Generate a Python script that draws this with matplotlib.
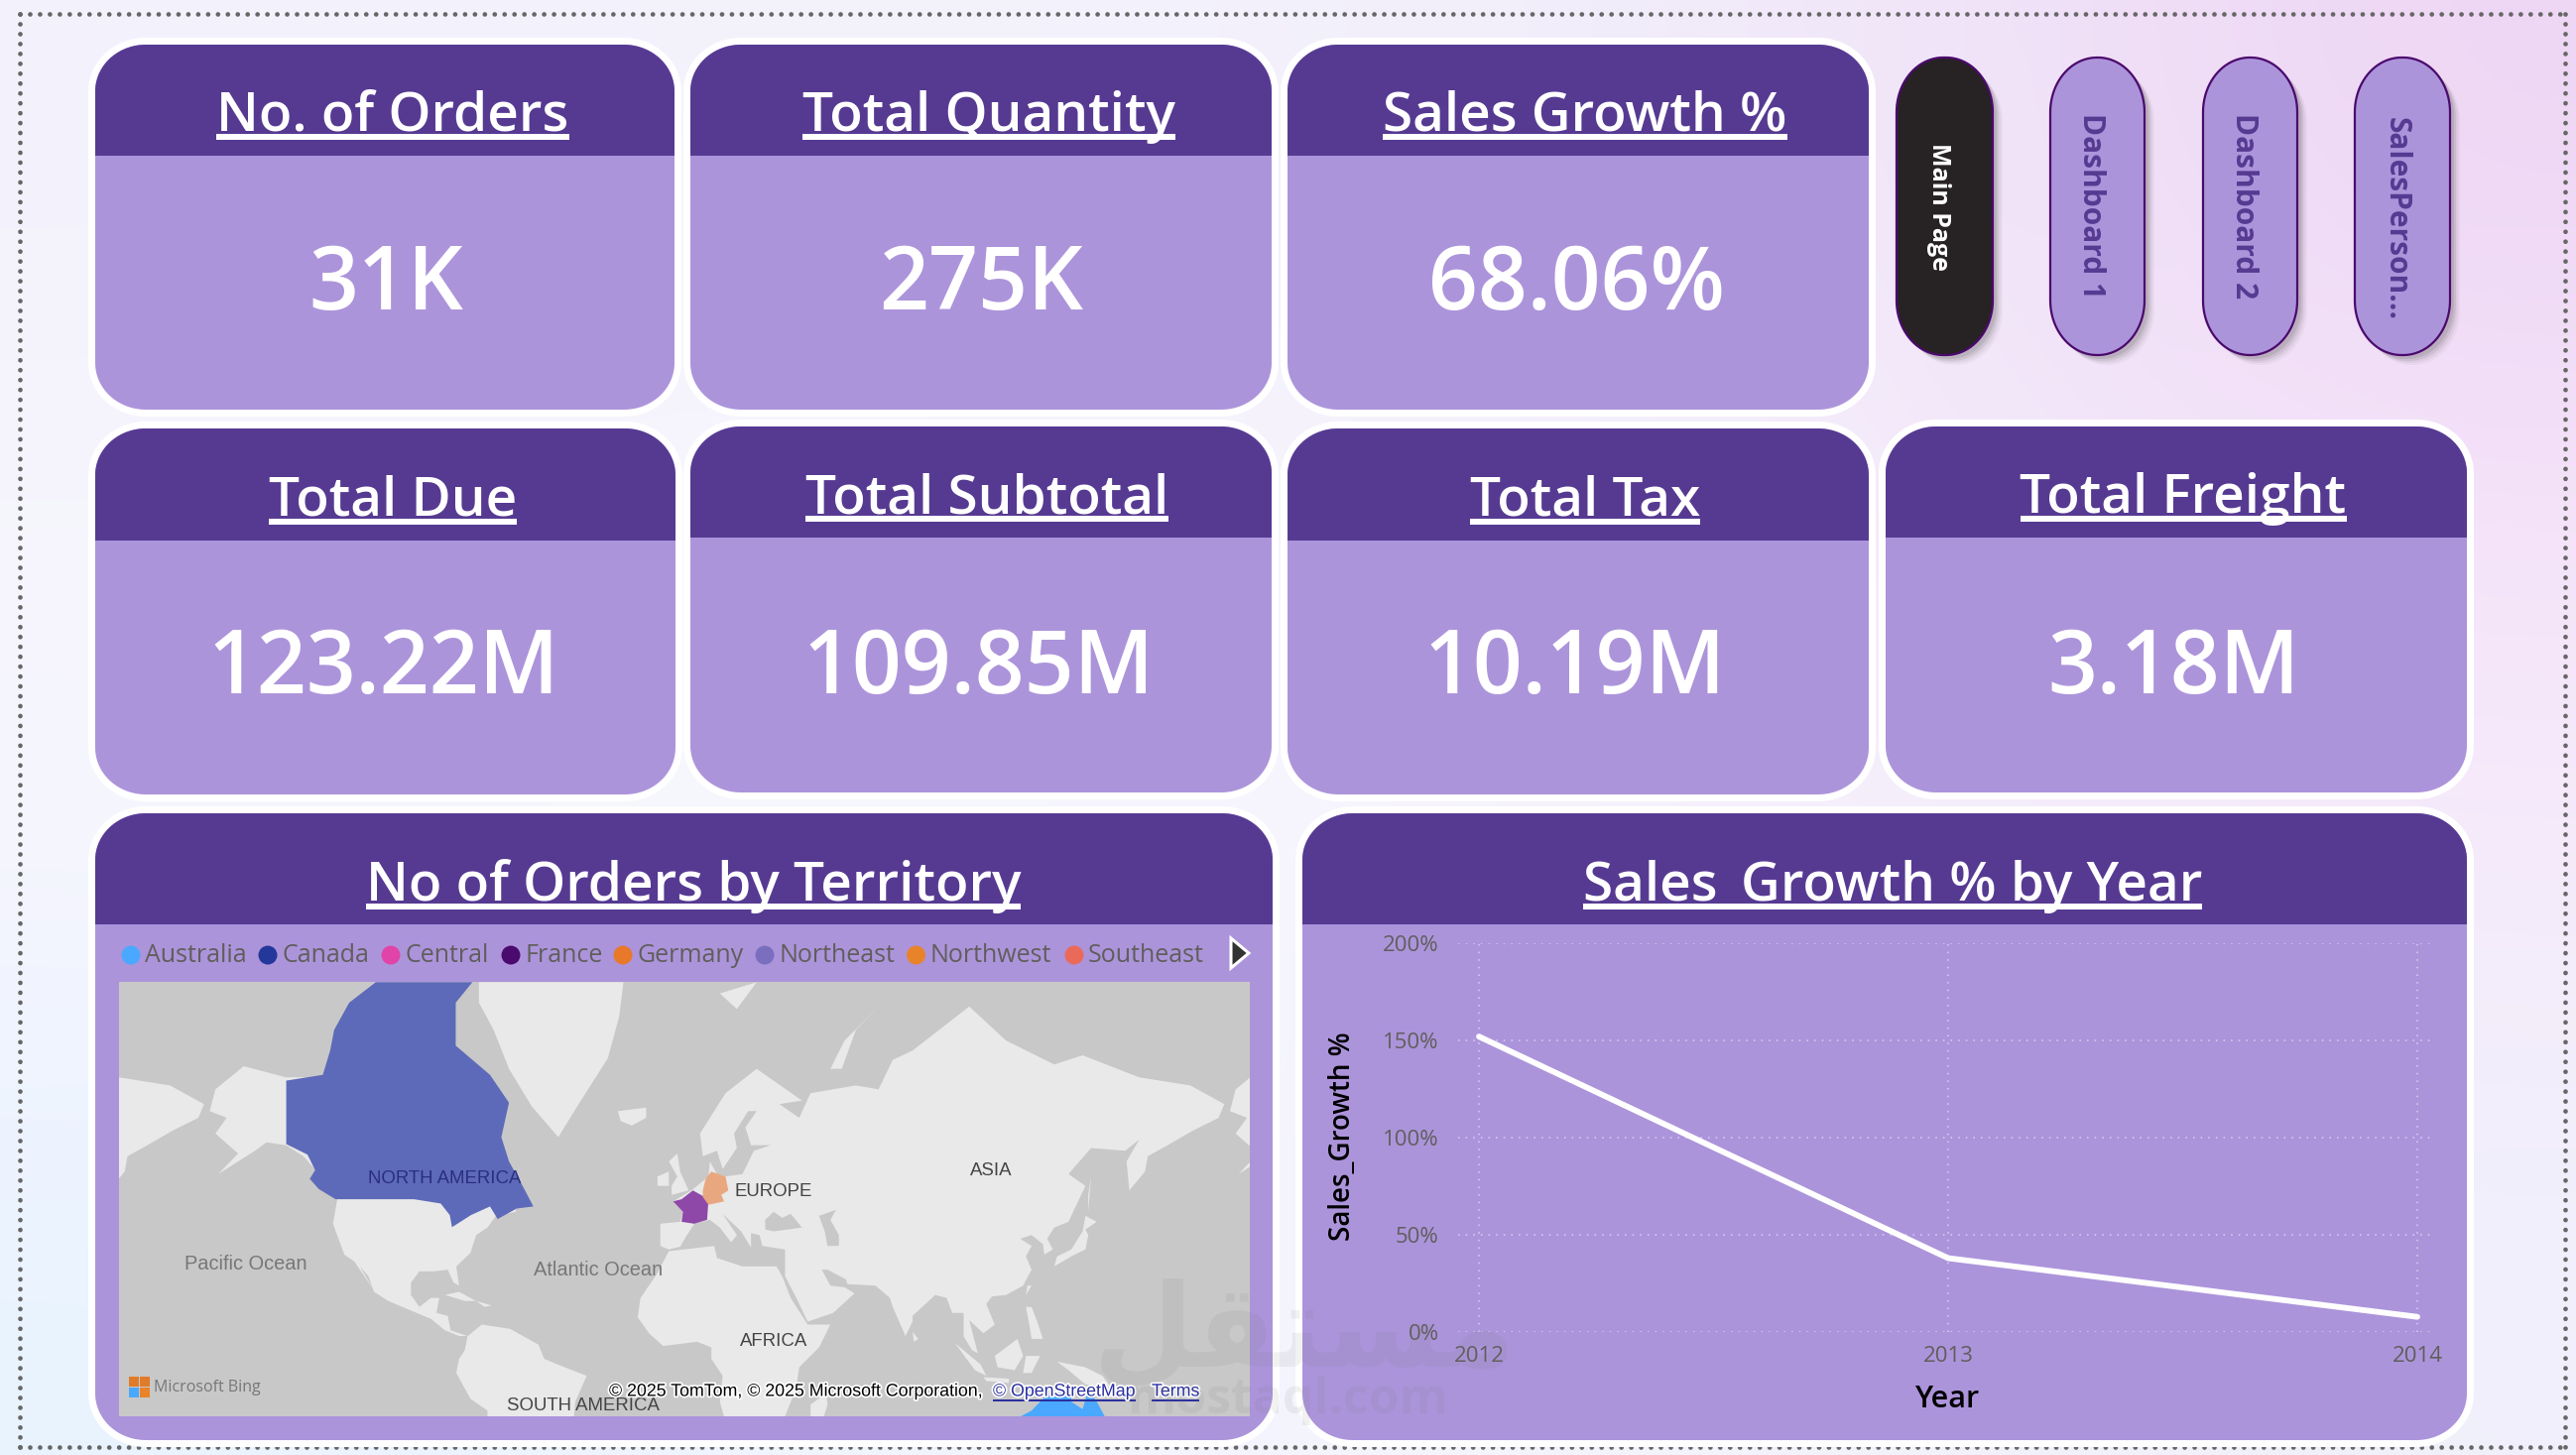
import numpy as np
import matplotlib
matplotlib.use("Agg")
import matplotlib.pyplot as plt
from matplotlib.patches import Rectangle, Polygon, Circle
import matplotlib.patheffects as pe

W, H = 2597, 1467

# ---- data ----
top_titles = ["No. of Orders", "Total Quantity", "Sales Growth %"]
top_values = ["31K", "275K", "68.06%"]
mid_titles = ["Total Due", "Total Subtotal", "Total Tax", "Total Freight"]
mid_values = ["123.22M", "109.85M", "10.19M", "3.18M"]
buttons = ["Main Page", "Dashboard 1", "Dashboard 2", "SalesPerson..."]

territories = ["Australia", "Canada", "Central", "France", "Germany", "Northeast", "Northwest", "Southeast"]
territory_colors = ["#4aa8ff", "#24379a", "#e044a7", "#4b0a6d", "#e8782a", "#7a6fbf", "#e8832a", "#ea6a5a"]

years = [2012, 2013, 2014]
sales_growth = [152, 38, 7.8]
y_ticks = [0, 50, 100, 150, 200]

# rough lon/lat outlines for the base map
north_america = [(-168,65.5),(-166,68.5),(-156,71.3),(-141,70),(-128,70),(-115,68),(-95,68),(-85,69),(-70,60),(-60,52),(-60,46),
                 (-67,45),(-70,42),(-74,40),(-76,35),(-81,31),(-80,25),(-82,26),(-84,30),(-89,29.5),(-94,29.5),(-97,26),(-97,22),
                 (-94,18),(-90,21),(-87,21),(-88,16),(-84,15),(-83,10),(-77,8),(-80,8),(-85,10),(-90,14),(-95,16),(-105,20),
                 (-110,23),(-112,28),(-115,31),(-110,23.5),(-117,32.5),(-120.5,34.5),(-124.5,43),(-123,49),(-130,55),(-135,58),
                 (-141,60),(-148,60.5),(-152,59),(-165,54.5),(-158,58.5),(-166,62),(-162,64.5)]
greenland = [(-73,78.8),(-22,78.8),(-23.5,76.2),(-27.5,72.2),(-38.3,66.2),(-45,61.4),(-54.4,66.2),(-62.4,71),(-67.8,75),(-73,77.3)]
south_america = [(-77,8),(-72,12),(-62,10.5),(-52,5),(-50,0),(-44,-2.5),(-35,-6),(-39,-15),(-40,-25),(-70,-25),(-70,-18),(-76,-14),
                 (-81,-5),(-80,0),(-78,3)]
africa = [(-6,35.5),(10,37),(11,33.5),(20,31),(32,31),(34,28),(37,21),(43,12),(51,12),(47,4),(40,-3),(39,-10),(35,-20),(35,-25),
          (15,-25),(12,-15),(13,-6),(9,0),(9,4),(4,6),(-4,5),(-8,4.5),(-13,9),(-17,14.5),(-16,21),(-10,29)]
eurasia = [(-9,37),(-9,43),(-2,43.5),(-1,46),(-4.5,48.5),(2,51),(8,54),(8.5,57),(11,54.5),(14,54),(20,54.5),(24,59),(30,60),(23,60),
           (21,63),(25,65.5),(22,65.5),(17,62),(18,59.5),(13,55.5),(11,59),(6,58),(5,62),(14,68),(25,71),(41,67),(33,66.5),(40,64.5),
           (44,68),(60,69),(68,68.5),(73,72),(80,73),(100,77),(113,74),(130,71.5),(140,72.5),(160,70),(178,69),(190,66.5),(188,64.5),
           (179,62.5),(170,60),(163,58),(162,55),(156.5,51),(155.5,57),(160,61),(155,59),(143,59.5),(135,54.5),(141,52),(135,43.5),
           (130,42),(127.5,39),(129.5,36),(126.5,34.5),(126,37.5),(122,40),(118,39),(122,37),(120,34),(122,30),(119,25),(113,22),
           (108,21.5),(106,19),(109,12),(105,9),(100,13.5),(103,2),(101,3),(98,8),(98,16),(94,16),(92,21),(88,22),(80,15),(80,13),
           (77.5,8),(73,18),(72,21),(67,25),(57,25.5),(56.5,27),(50,30),(48,30),(51,25),(56,24.5),(59.5,22.5),(52,16),(43,13),(39,21),
           (35,28),(35,36),(27,37),(26,40),(23,40.5),(23,36.5),(19.5,41),(13,45.5),(18,40),(16,38),(12,42),(8.5,44),(3,43),(0,39.5),
           (-2,36.8),(-6,36)]
islands = [
    [(-5,50),(1,51),(-2,55),(-3,58.5),(-6,57),(-3,54),(-5,52)],
    [(-10,52),(-6,52),(-6,55),(-10,54)],
    [(-24,65.5),(-14,66),(-14,64.5),(-19,63.3),(-23,64)],
    [(130,31),(136,34),(141,36),(142,40),(141,41.5),(145,43.5),(141,45),(140,41),(136,36),(131,34)],
    [(142,46),(143,54),(142,50)],
    [(51,71),(56,74),(68,77),(60,75),(55,71)],
    [(12,78),(25,78.8),(18,76.8)],
    [(95,5.5),(104,-2),(106,-6),(102,-4)],
    [(109,1),(117,7),(119,1),(116,-4),(110,-3)],
    [(105,-6.5),(114,-7),(114,-8.5),(106,-7.8)],
    [(120,1),(125,1),(122,-5),(119,-5)],
    [(131,-1),(141,-3),(147,-6),(150,-10),(141,-9),(135,-4)],
    [(120,18),(122,18),(124,13),(126,7),(122,7),(121,13)],
    [(120,22),(122,25),(120.5,25)],
    [(80,9.5),(82,7),(80.5,6)],
    [(44,-16),(49.5,-12),(50,-16),(47,-25),(44,-25)],
    [(-85,22),(-80,23),(-74,20),(-78,20)],
    [(-74,20),(-68.5,18.5),(-71,18)],
]
seas = [
    [(28,41.5),(28,44),(31,46),(34,44.5),(37,45.5),(41,42),(36,41.5),(31,41)],
    [(47,45),(53,46.5),(51,44),(54,40),(54,37),(50,37),(49,41)],
]
canada = [(-109.4,78.8),(-118.8,77.3),(-124.1,75),(-125.5,73),(-128.1,70.3),(-141,69.6),(-141,60.2),(-133.5,58.3),(-130.8,55.3),
          (-132.7,53.5),(-129.5,51.3),(-123.6,49),(-95.9,49),(-86.5,48),(-83.3,45.2),(-82.5,42.1),(-75.8,45.2),(-69.1,47.3),(-66.4,44.2),
          (-59.7,46.8),(-53.8,47.3),(-57,51.3),(-62.4,57),(-65.1,61.4),(-62.4,66.7),(-69.1,70.3),(-81.2,73.5),(-81.2,77.3),(-75.3,78.8)]
france = [(-4.5,48.5),(-1.5,49),(2.5,51),(8,49),(7.5,44),(3,43),(-1.5,43.5),(-1,46)]
germany = [(6,51),(7,53.5),(9,55),(14,54),(15,51),(12.5,50),(13.5,48.5),(8,47.7),(6,49.5)]
australia = [(114,-22),(122,-18),(126,-14),(130,-12),(136,-12),(136,-15),(140,-17.5),(142,-11),(145,-15),(149,-22),(149,-30),(114,-30)]

HEAD = "#563a92"
BODY = "#ac94db"
GREY = "#605e5c"
FONT = "Open Sans"

plt.rcParams["font.family"] = [FONT, "DejaVu Sans"]

fig = plt.figure(figsize=(W / 100, H / 100), dpi=100)
page = fig.add_axes([0, 0, 1, 1])
page.set_xlim(0, W)
page.set_ylim(H, 0)
page.axis("off")

# background gradient
bg_hex = [["f3f2fc", "f4f3fc", "f3f1fb", "f1ebfa", "eed6f4"],
          ["f7f6fd", "f8f7fe", "f7f5fd", "f4edfb", "f6e4fa"],
          ["f5f5fe", "f7f7fe", "f7f6fd", "f5f1fc", "f5ecfb"],
          ["e8f3ff", "f0f5fe", "f5f5fd", "f3f3fc", "f0f0fb"]]
bg = np.array([[matplotlib.colors.to_rgb("#" + v) for v in row] for row in bg_hex])
page.imshow(bg, extent=[0, W, H, 0], aspect="auto", interpolation="bicubic", zorder=0)

# dotted frame
for xs, ys in [([20, 2586], [14, 14]), ([20, 2586], [1459, 1459]), ([20, 20], [14, 1459]), ([2586, 2586], [14, 1459])]:
    page.plot(xs, ys, color="#666666", lw=3.4, linestyle=(0, (0.01, 2.1)), dash_capstyle="round", zorder=1)


def box(x0, y0, x1, y1, rx, ry, **kw):
    # rounded rectangle with true elliptical corners
    t = np.linspace(0, np.pi / 2, 24)
    pts = []
    pts += list(zip(x1 - rx + rx * np.sin(t), y0 + ry - ry * np.cos(t)))
    pts += list(zip(x1 - rx + rx * np.cos(t), y1 - ry + ry * np.sin(t)))
    pts += list(zip(x0 + rx - rx * np.sin(t), y1 - ry + ry * np.cos(t)))
    pts += list(zip(x0 + rx - rx * np.cos(t), y0 + ry - ry * np.sin(t)))
    return Polygon(pts, closed=True, **kw)


def underlined(ax, cx, base, s, size):
    t = ax.text(cx, base, s, color="white", fontsize=size, fontweight="semibold", ha="center", va="baseline", zorder=5)
    bb = t.get_window_extent(fig.canvas.get_renderer())
    ax.add_patch(Rectangle((bb.x0, base + 3), bb.width, 5.5, color="white", lw=0, zorder=5))
    return t


def card(x0, y0, x1, y1, head_bottom):
    page.add_patch(box(x0 - 7, y0 - 7, x1 + 7, y1 + 7, 58, 54, fc="white", ec="none", zorder=2))
    body = box(x0, y0, x1, y1, 51, 47, fc=BODY, ec="none", zorder=3)
    page.add_patch(body)
    head = Rectangle((x0, y0), x1 - x0, head_bottom - y0, fc=HEAD, ec="none", zorder=4)
    page.add_patch(head)
    head.set_clip_path(body)


# KPI cards, first row
row1_x = [(96, 680), (696, 1282), (1298, 1884)]
row1_title_x = [396, 997, 1598]
row1_value_x = [389, 989, 1590]
for i, (x0, x1) in enumerate(row1_x):
    card(x0, 45, x1, 413, 157)
    underlined(page, row1_title_x[i], 132, top_titles[i], 39.5)
    page.text(row1_value_x[i], 312, top_values[i], color="white", fontsize=63, fontweight="semibold", ha="center", va="baseline", zorder=5)

# KPI cards, second row
row2_x = [(96, 681), (696, 1282), (1298, 1884), (1901, 2487)]
row2_y = [(432, 801, 545, 520), (430, 799, 542, 517), (432, 801, 545, 520), (430, 799, 542, 517)]
row2_title_x = [396, 995, 1598, 2201]
row2_value_x = [387, 987, 1588, 2192]
for i, (x0, x1) in enumerate(row2_x):
    y0, y1, hb, base = row2_y[i]
    card(x0, y0, x1, y1, hb)
    underlined(page, row2_title_x[i], base, mid_titles[i], 39.5)
    page.text(row2_value_x[i], 699, mid_values[i], color="white", fontsize=63, fontweight="semibold", ha="center", va="baseline", zorder=5)

# lower panels
card(96, 820, 1283, 1452, 932)
card(1313, 820, 2487, 1452, 932)
underlined(page, 699, 908, "No of Orders by Territory", 39.5)
underlined(page, 1908, 908, "Sales_Growth % by Year", 39.5)

# page buttons
button_x = [(1912, 2009), (2067, 2162), (2221, 2316), (2374, 2470)]
button_mid = [208, 208, 208, 221]
for i, (x0, x1) in enumerate(button_x):
    for off, a in [(10, 0.05), (8, 0.08), (6, 0.12), (4, 0.15)]:
        page.add_patch(box(x0 + off, 58 + off, x1 + off, 358 + off, 47, 55, fc="#555555", ec="none", alpha=a, zorder=2))
    active = i == 0
    page.add_patch(box(x0, 58, x1, 358, 47, 55, fc="#272223" if active else BODY, ec="#4b0a6d", lw=1.6, zorder=3))
    page.text((x0 + x1) / 2 - 6, button_mid[i], buttons[i], rotation=270, ha="center", va="center",
              color="white" if active else HEAD, fontsize=18 if active else 21.5, fontweight="bold", zorder=5)

# map
mx0, mx1, my0, my1 = 120, 1260, 990, 1427.5
m = fig.add_axes([mx0 / W, 1 - my1 / H, (mx1 - mx0) / W, (my1 - my0) / H], zorder=2)
m.set_facecolor("#c8c8c8")
m.set_xlim(-200, 199)
m.set_ylim(-0.3517, 2.324)
m.set_xticks([])
m.set_yticks([])
for s in m.spines.values():
    s.set_visible(False)


def draw_shape(shape, color, z=1, shift=0):
    pts = np.array(shape, dtype=float)
    m.fill(pts[:, 0] + shift, np.arcsinh(np.tan(np.radians(pts[:, 1]))), color=color, lw=0, zorder=z)


LAND = "#e9e9e9"
for shift in (-360, 0, 360):
    for shape in [north_america, greenland, south_america, africa, eurasia] + islands:
        draw_shape(shape, LAND, 1, shift)
for shape in seas:
    draw_shape(shape, "#c8c8c8", 2)
draw_shape(canada, "#5d6ab9", 3)
draw_shape(france, "#8e48a8", 3)
draw_shape(germany, "#e9a780", 3)
draw_shape(australia, "#4aa8ff", 3)

# chart
cx0, cx1, cy0, cy1 = 1470, 2450, 951, 1343
c = fig.add_axes([cx0 / W, 1 - cy1 / H, (cx1 - cx0) / W, (cy1 - cy0) / H], zorder=2)
c.patch.set_alpha(0)
c.plot(years, sales_growth, color="white", lw=4.2, solid_capstyle="round", solid_joinstyle="round", zorder=3, clip_on=False)
px_year = (2437 - 1491) / 2
c.set_xlim(2012 - (1491 - cx0) / px_year, 2014 + (cx1 - 2437) / px_year)
c.set_ylim(0, 200)
c.set_xticks(years)
c.set_xticklabels([str(y) for y in years])
c.set_yticks(y_ticks)
c.set_yticklabels(["%d%%" % v for v in y_ticks])
c.tick_params(length=0, labelsize=16, labelcolor=GREY)
c.tick_params(axis="y", pad=14)
c.tick_params(axis="x", pad=10)
c.grid(True, color="white", alpha=0.55, lw=1.1, linestyle=(0, (1, 4)))
c.set_axisbelow(True)
for s in c.spines.values():
    s.set_visible(False)

# things drawn over the map and the chart
top = fig.add_axes([0, 0, 1, 1], zorder=3)
top.set_xlim(0, W)
top.set_ylim(H, 0)
top.axis("off")
top.patch.set_alpha(0)

top.text(1354, 1146, "Sales_Growth %", rotation=90, ha="center", va="center", fontsize=20, color="black", fontweight="semibold")
top.text(1964, 1411, "Year", ha="center", va="center", fontsize=22, color="black", fontweight="semibold")

# legend
dot_x = [132, 270, 394, 515, 628, 771, 923.5, 1083]
for x, name, col in zip(dot_x, territories, territory_colors):
    top.add_patch(Circle((x, 963), 9.5, fc=col, ec="none"))
    top.text(x + 14, 964, name, color=GREY, fontsize=18, ha="left", va="center")
top.add_patch(Polygon([(1241, 946), (1259, 961), (1241, 976)], fc="#333333", ec="white", lw=2.2))

# map labels
map_labels = [(448, 1188.5, "NORTH AMERICA", "#2a2f7f", 13.4), (780, 1201, "EUROPE", "#444444", 13.4),
              (999, 1180.5, "ASIA", "#444444", 13.4), (248, 1274, "Pacific Ocean", "#777777", 14.4),
              (603.5, 1280, "Atlantic Ocean", "#777777", 14.4), (780, 1352.5, "AFRICA", "#444444", 13.4),
              (587.5, 1417, "SOUTH AMERICA", "#444444", 13.4)]
for x, y, s, col, fs in map_labels:
    top.text(x, y, s, color=col, fontsize=fs, ha="center", va="center", family="Liberation Sans")

# bing mark
for x, y, col in [(130, 1388, "#e07b2a"), (141, 1388, "#e07b2a"), (130, 1399, "#4aa8ff"), (141, 1399, "#e8832a")]:
    top.add_patch(Rectangle((x, y), 10, 10, fc=col, ec="none"))
top.text(155, 1399, "Microsoft Bing", color="#777777", fontsize=11.5, ha="left", va="center")

halo2 = [pe.withStroke(linewidth=2.5, foreground="white")]
top.text(614, 1403, "\u00a9 2025 TomTom, \u00a9 2025 Microsoft Corporation,", color="black", fontsize=12.8, ha="left", va="center",
         family="Liberation Sans", path_effects=halo2)
top.text(1001, 1403, "\u00a9 OpenStreetMap", color="#2a2f9f", fontsize=12.8, ha="left", va="center", family="Liberation Sans", path_effects=halo2)
top.text(1161, 1403, "Terms", color="#2a2f9f", fontsize=12.8, ha="left", va="center", family="Liberation Sans", path_effects=halo2)
top.add_patch(Rectangle((1001, 1411), 144, 1.6, fc="#2a2f9f", ec="none"))
top.add_patch(Rectangle((1161, 1411), 48, 1.6, fc="#2a2f9f", ec="none"))

# faint watermark
top.text(1315, 1345, "\ufede\ufed8\ufe98\ufeb4\ufee3", family="DejaVu Sans", fontweight="bold", fontsize=84, color="#777777", alpha=0.1, ha="center", va="center")
top.text(1298, 1412, "mostaql.com", fontsize=36, color="#777777", alpha=0.1, ha="center", va="center", fontweight="bold")

fig.savefig("out.png", dpi=100)
